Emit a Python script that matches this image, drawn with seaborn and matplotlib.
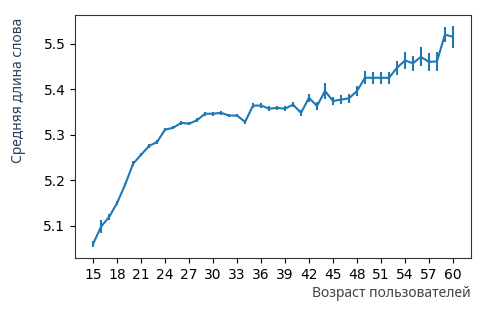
import matplotlib
matplotlib.use("Agg")
import matplotlib.pyplot as plt
import seaborn as sns
import pandas as pd
import numpy as np

ages = list(range(15, 61))
mean_len = [5.060, 5.098, 5.119, 5.150, 5.190, 5.236, 5.256, 5.275, 5.284, 5.311,
            5.315, 5.326, 5.324, 5.332, 5.346, 5.346, 5.348, 5.342, 5.342, 5.328,
            5.364, 5.364, 5.357, 5.359, 5.357, 5.366, 5.348, 5.381, 5.363, 5.396,
            5.374, 5.377, 5.380, 5.396, 5.425, 5.425, 5.425, 5.425, 5.447, 5.463,
            5.457, 5.471, 5.460, 5.461, 5.520, 5.515]
err = [0.007, 0.015, 0.006, 0.004, 0.003, 0.005, 0.004, 0.004, 0.004, 0.004,
       0.003, 0.004, 0.003, 0.004, 0.004, 0.004, 0.004, 0.004, 0.004, 0.004,
       0.006, 0.006, 0.005, 0.005, 0.005, 0.006, 0.007, 0.009, 0.008, 0.018,
       0.009, 0.010, 0.010, 0.011, 0.014, 0.013, 0.013, 0.013, 0.016, 0.018,
       0.017, 0.021, 0.020, 0.021, 0.016, 0.024]
xticks = list(range(15, 61, 3))

df = pd.DataFrame({"age": ages, "mean": mean_len, "err": err})

fig = plt.figure(figsize=(4.88, 3.17), dpi=100)
ax = fig.add_axes([0.154, 0.186, 0.811, 0.767])
color = "#1f77b4"
sns.lineplot(data=df, x="age", y="mean", ax=ax, color=color, linewidth=1.5, errorbar=None)
ax.errorbar(df["age"], df["mean"], yerr=df["err"], fmt="none", ecolor=color, elinewidth=1.5, capsize=0)

ax.set_xticks(xticks)
ax.set_xlabel("Возраст пользователей", loc="right", color="#444444",
              family="Noto Sans", fontsize=10, labelpad=3)
ax.set_ylabel("Средняя длина слова", color="#2a3f5f", family="Noto Sans", fontsize=10)
ax.yaxis.set_label_coords(-0.123, 0.69)
for s in ax.spines.values():
    s.set_color("#333333")

fig.savefig("out.png", dpi=100)
